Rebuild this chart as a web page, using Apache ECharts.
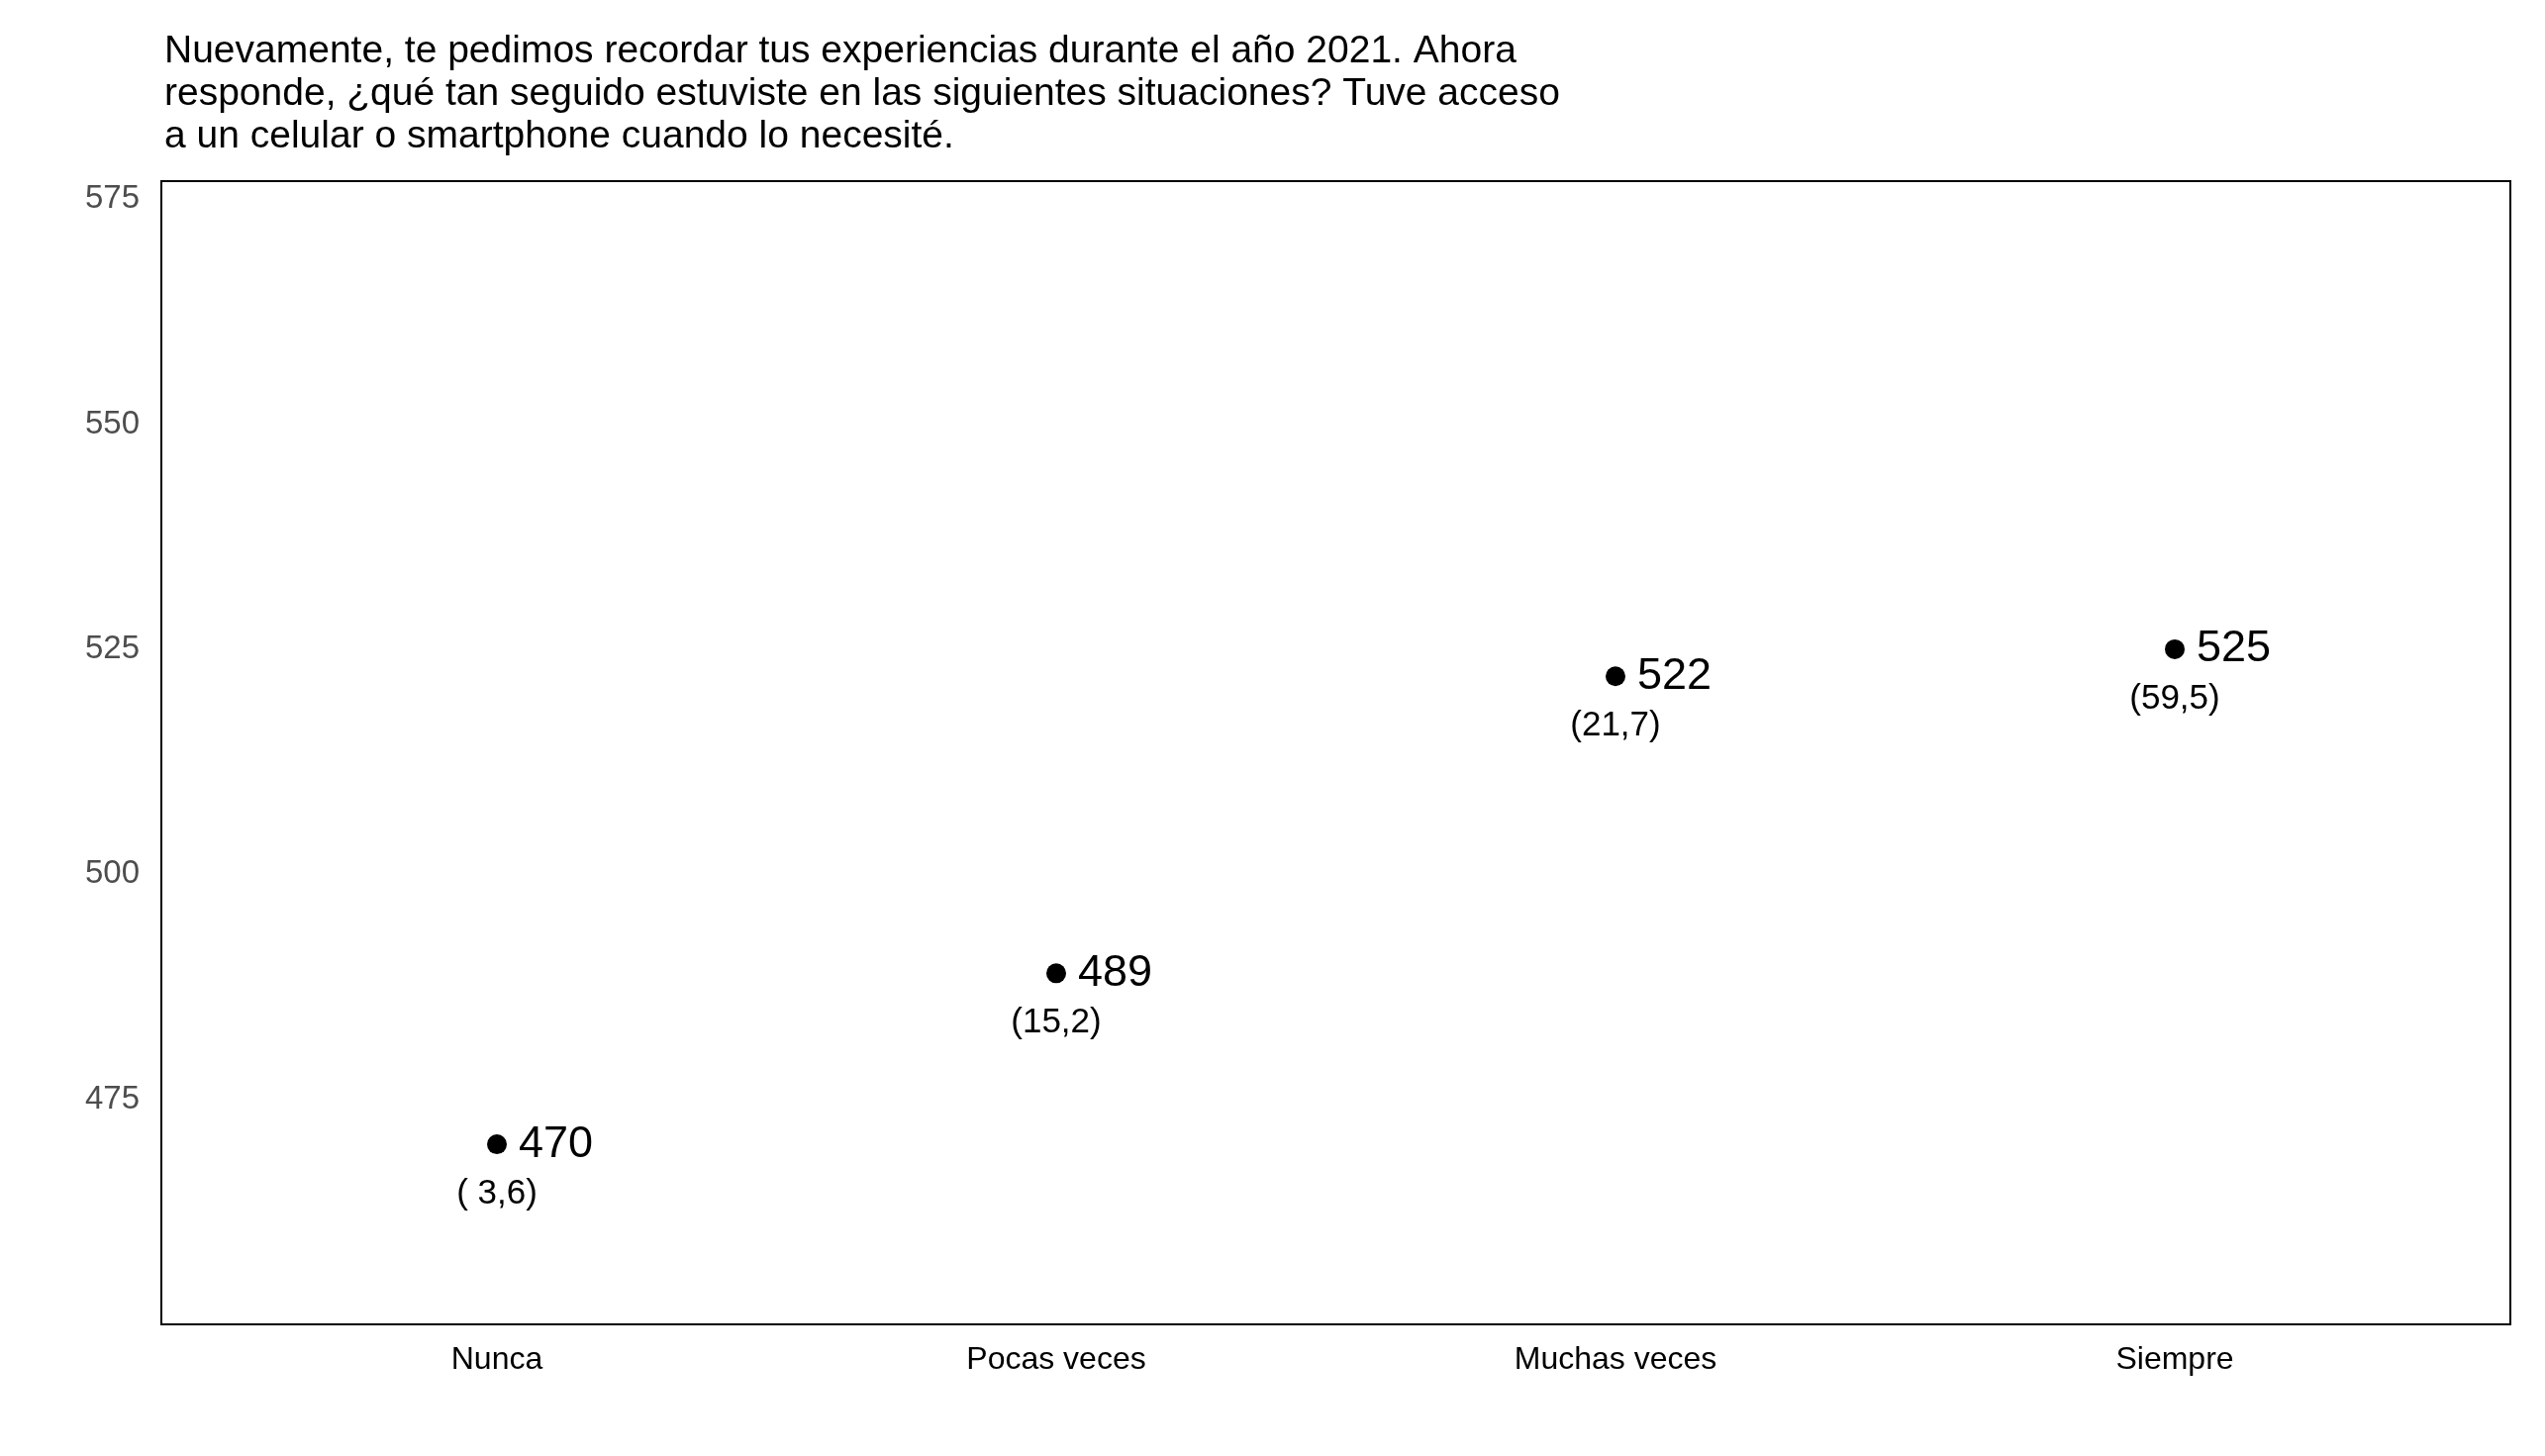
<!DOCTYPE html>
<html lang="es">
<head>
<meta charset="UTF-8">
<title>Acceso a celular</title>
<script src="https://cdn.jsdelivr.net/npm/echarts@6/dist/echarts.min.js"></script>
<style>html,body{margin:0;background:#fff}</style>
</head>
<body>
<div id="main" style="width:2571px;height:1471px"></div>
<script>
var categories = ['Nunca', 'Pocas veces', 'Muchas veces', 'Siempre'];
var scores = [470, 489, 522, 525];
var shares = ['( 3,6)', '(15,2)', '(21,7)', '(59,5)'];
var yTicks = [475, 500, 525, 550, 575];

var pts = scores.map(function (v, i) { return [i + 1, v, shares[i]]; });

var chart = echarts.init(document.getElementById('main'));
chart.setOption({
    animation: false,
    title: {
        text: 'Nuevamente, te pedimos recordar tus experiencias durante el año 2021. Ahora\nresponde, ¿qué tan seguido estuviste en las siguientes situaciones? Tuve acceso\na un celular o smartphone cuando lo necesité.',
        left: 161, top: 26,
        textStyle: { fontFamily: 'Liberation Sans', fontSize: 39, fontWeight: 'normal', color: '#000', lineHeight: 43 }
    },
    grid: { left: 163, right: 35, top: 183, bottom: 133, show: true, borderColor: '#000', borderWidth: 2 },
    xAxis: {
        type: 'value', min: 0.4, max: 4.6, interval: 0.2,
        axisLine: { show: false }, axisTick: { show: false }, splitLine: { show: false },
        axisLabel: {
            margin: 20, fontFamily: 'Liberation Sans', fontSize: 32, color: '#000',
            showMinLabel: true, showMaxLabel: true,
            formatter: function (v) {
                var r = Math.round(v);
                return Math.abs(v - r) < 0.01 && r >= 1 && r <= 4 ? categories[r - 1] : '';
            }
        }
    },
    yAxis: {
        type: 'value', min: 450, max: 577, interval: 25,
        axisLine: { show: false }, axisTick: { show: false }, splitLine: { show: false },
        axisLabel: {
            margin: 22, fontFamily: 'Liberation Sans', fontSize: 33, color: '#4d4d4d',
            showMaxLabel: false,
            formatter: function (v) { return yTicks.indexOf(v) >= 0 ? String(v) : ''; }
        }
    },
    series: [{
        type: 'scatter', data: pts, symbolSize: 20,
        itemStyle: { color: '#000', opacity: 1 },
        label: {
            show: true, position: 'right', distance: 12,
            fontFamily: 'Liberation Sans', fontSize: 45, color: '#000',
            formatter: function (p) { return p.value[1]; }
        }
    }, {
        type: 'scatter', data: pts, symbolSize: 1,
        itemStyle: { color: 'rgba(0,0,0,0)', opacity: 1 },
        label: {
            show: true, position: 'bottom', distance: 32,
            fontFamily: 'Liberation Sans', fontSize: 35, color: '#000',
            formatter: function (p) { return p.value[2]; }
        }
    }]
});
</script>
</body>
</html>
